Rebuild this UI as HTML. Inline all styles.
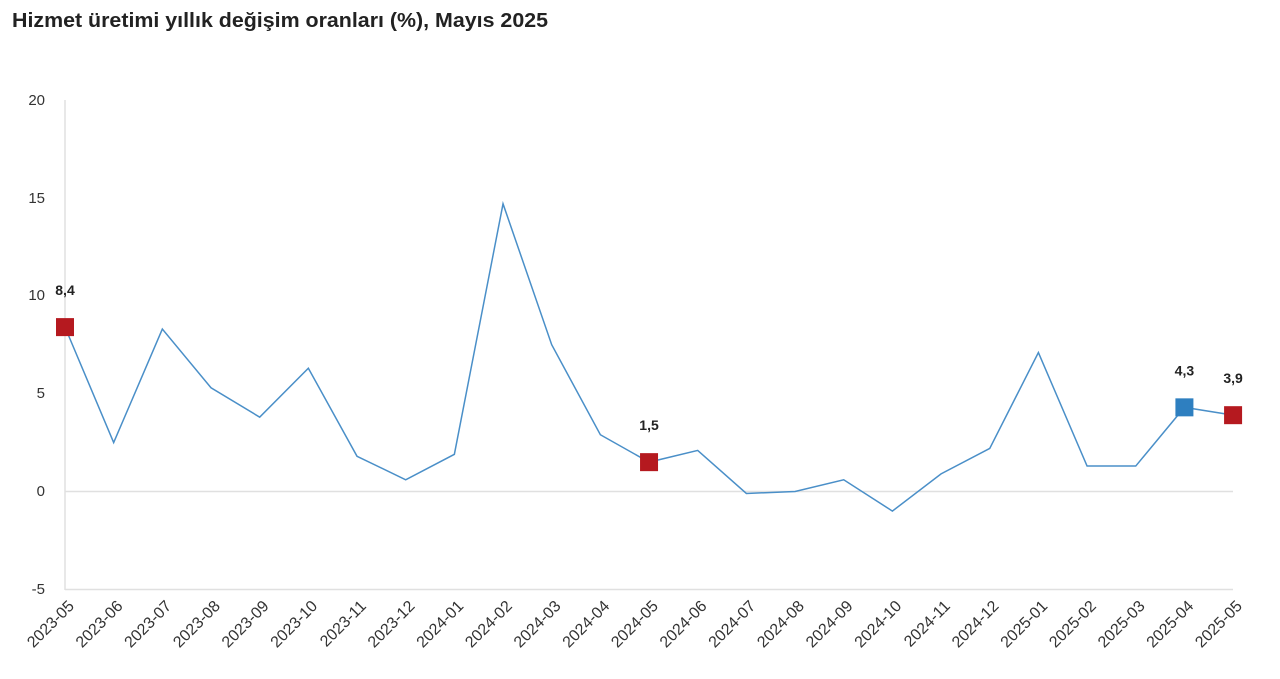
<!DOCTYPE html>
<html><head><meta charset="utf-8"><style>
html,body{margin:0;padding:0;background:#fff;width:1280px;height:679px;overflow:hidden}
svg{display:block;font-family:"Liberation Sans",sans-serif}
</style></head><body>
<svg width="1280" height="679" viewBox="0 0 1280 679">
<text x="12" y="27" font-size="20" font-weight="bold" fill="#222" textLength="536" lengthAdjust="spacingAndGlyphs">Hizmet üretimi yıllık değişim oranları (%), Mayıs 2025</text>
<g stroke="#e0e0e0" stroke-width="1.5">
<line x1="65" y1="100" x2="65" y2="590"/>
<line x1="65" y1="491.5" x2="1233" y2="491.5"/>
<line x1="65" y1="589.5" x2="1233" y2="589.5"/>
</g>
<g font-size="15" fill="#333" text-anchor="end">
<text x="45" y="105">20</text><text x="45" y="203">15</text><text x="45" y="300">10</text>
<text x="45" y="398">5</text><text x="45" y="496">0</text><text x="45" y="594">-5</text>
</g>
<g id="labels" font-size="16" fill="#333" text-anchor="end"></g>
<polyline id="ln" fill="none" stroke="#4a8fc8" stroke-width="1.5"/>
<g id="mk"></g>
</svg>
<script>
var v=[8.4,2.5,8.3,5.3,3.8,6.3,1.8,0.6,1.9,14.7,7.5,2.9,1.5,2.1,-0.1,0.0,0.6,-1.0,0.9,2.2,7.1,1.3,1.3,4.3,3.9];
var L=["2023-05","2023-06","2023-07","2023-08","2023-09","2023-10","2023-11","2023-12","2024-01","2024-02","2024-03","2024-04","2024-05","2024-06","2024-07","2024-08","2024-09","2024-10","2024-11","2024-12","2025-01","2025-02","2025-03","2025-04","2025-05"];
function X(i){return 65+i*48.67}function Y(d){return 491.5-d*19.57}
var p=v.map(function(d,i){return X(i)+","+Y(d)}).join(" ");
document.getElementById("ln").setAttribute("points",p);
var ns="http://www.w3.org/2000/svg",g=document.getElementById("labels");
L.forEach(function(s,i){var t=document.createElementNS(ns,"text");var x=X(i)+10,y=607;
t.setAttribute("x",x);t.setAttribute("y",y);t.setAttribute("transform","rotate(-45 "+x+" "+y+")");t.textContent=s;g.appendChild(t);});
var mk=document.getElementById("mk");
[[0,"#b5191f"],[12,"#b5191f"],[23,"#2e7fc0"],[24,"#b5191f"]].forEach(function(a){
var i=a[0],x=X(i),y=Y(v[i]);var r=document.createElementNS(ns,"rect");
r.setAttribute("x",x-9);r.setAttribute("y",y-9);r.setAttribute("width",18);r.setAttribute("height",18);r.setAttribute("fill",a[1]);mk.appendChild(r);
var t=document.createElementNS(ns,"text");t.setAttribute("x",x);t.setAttribute("y",y-32);t.setAttribute("text-anchor","middle");
t.setAttribute("font-size","14");t.setAttribute("font-weight","bold");t.setAttribute("fill","#222");t.textContent=String(v[i].toFixed(1)).replace(".",",");mk.appendChild(t);});
</script>
</body></html>
